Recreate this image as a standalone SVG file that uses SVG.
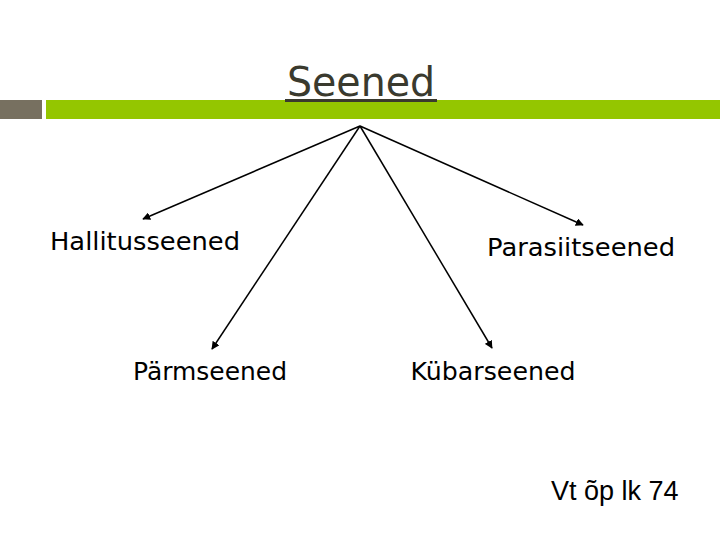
<svg xmlns="http://www.w3.org/2000/svg" width="720" height="540" viewBox="0 0 720 540">
<style>
.lbl{font-family:"DejaVu Sans","Liberation Sans",sans-serif;font-size:24px;fill:#000}
.con{stroke:#000;stroke-width:1.5;fill:none;marker-end:url(#ah)}
</style>
<defs>
<marker id="ah" viewBox="0 0 10 10" refX="9" refY="5" markerWidth="8" markerHeight="8" markerUnits="userSpaceOnUse" orient="auto">
<path d="M0,0 L10,5 L0,10 z" fill="#000"/>
</marker>
</defs>
<rect width="720" height="540" fill="#fff"/>
<rect x="0" y="100" width="42" height="19" fill="#777060"/>
<rect x="46" y="100" width="674" height="19" fill="#94c600"/>
<g id="title">
<text x="361" y="96" text-anchor="middle" font-family="DejaVu Sans,sans-serif" font-size="40" fill="#3a3a2e" textLength="148" lengthAdjust="spacingAndGlyphs">Seened</text>
<rect x="285" y="99" width="152" height="3" fill="#3a3a2e"/>
</g>
<g id="connectors">
<line class="con" x1="360" y1="126" x2="143" y2="219"/>
<line class="con" x1="360" y1="126" x2="212" y2="349"/>
<line class="con" x1="360" y1="126" x2="492" y2="348"/>
<line class="con" x1="360" y1="126" x2="583" y2="225"/>
</g>
<g id="hallitusseened"><text class="lbl" x="145" y="250" text-anchor="middle" textLength="190" lengthAdjust="spacingAndGlyphs">Hallitusseened</text></g>
<g id="parasiitseened"><text class="lbl" x="581" y="256" text-anchor="middle" textLength="188" lengthAdjust="spacingAndGlyphs">Parasiitseened</text></g>
<g id="parmseened"><text class="lbl" x="210" y="380" text-anchor="middle" textLength="154" lengthAdjust="spacingAndGlyphs">Pärmseened</text></g>
<g id="kubarseened"><text class="lbl" x="493" y="380" text-anchor="middle" textLength="165" lengthAdjust="spacingAndGlyphs">Kübarseened</text></g>
<g id="note"><text x="551" y="500" font-family="Liberation Sans,Arial,sans-serif" font-size="27" fill="#000">Vt õp lk 74</text></g>
</svg>
